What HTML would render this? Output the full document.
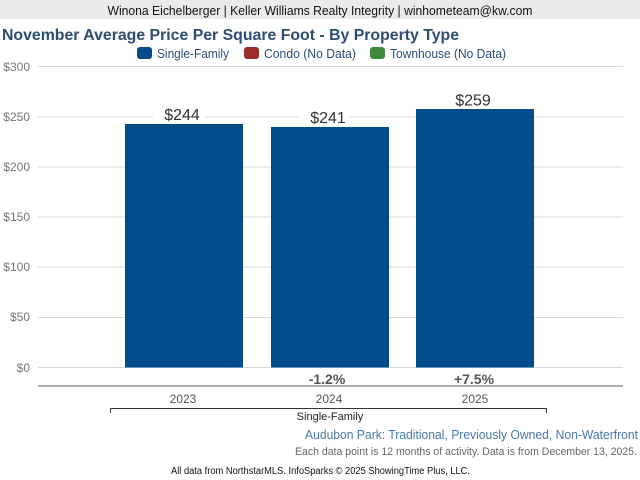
<!DOCTYPE html>
<html><head><meta charset="utf-8"><style>
html,body{margin:0;padding:0;background:#fff;}
svg{display:block;font-family:"Liberation Sans",Arial,sans-serif;}
</style></head><body>
<svg width="640" height="480" viewBox="0 0 640 480" xmlns="http://www.w3.org/2000/svg">
<rect x="0" y="0" width="640" height="480" fill="#ffffff"/>
<rect x="0" y="0" width="640" height="19" fill="#ebebeb"/>
<text x="320" y="15" font-size="13" fill="#111" text-anchor="middle" textLength="425" lengthAdjust="spacingAndGlyphs">Winona Eichelberger | Keller Williams Realty Integrity | winhometeam@kw.com</text>
<text x="2" y="40" font-size="16" font-weight="bold" fill="#2e4d72" textLength="457" lengthAdjust="spacingAndGlyphs">November Average Price Per Square Foot - By Property Type</text>
<!-- legend -->
<rect x="137" y="47" width="15" height="12" rx="3" fill="#034c8c"/>
<text x="157" y="58" font-size="12.5" fill="#2e4d72" textLength="72" lengthAdjust="spacingAndGlyphs">Single-Family</text>
<rect x="244" y="47" width="15" height="12" rx="3" fill="#9b2d2e"/>
<text x="264" y="58" font-size="12.5" fill="#2e4d72" textLength="92" lengthAdjust="spacingAndGlyphs">Condo (No Data)</text>
<rect x="370" y="47" width="15" height="12" rx="3" fill="#3f8a3b"/>
<text x="390" y="58" font-size="12.5" fill="#2e4d72" textLength="116" lengthAdjust="spacingAndGlyphs">Townhouse (No Data)</text>
<!-- grid -->
<g stroke="#d9d9d9" stroke-width="1">
<line x1="38" y1="66.5" x2="623" y2="66.5"/>
<line x1="38" y1="117" x2="623" y2="117"/>
<line x1="38" y1="167" x2="623" y2="167"/>
<line x1="38" y1="217" x2="623" y2="217"/>
<line x1="38" y1="267" x2="623" y2="267"/>
<line x1="38" y1="317.5" x2="623" y2="317.5"/>
<line x1="38" y1="367.5" x2="623" y2="367.5"/>
</g>
<g font-size="12" fill="#777" text-anchor="end">
<text x="30" y="71">$300</text>
<text x="30" y="121">$250</text>
<text x="30" y="171">$200</text>
<text x="30" y="221">$150</text>
<text x="30" y="271">$100</text>
<text x="30" y="321">$50</text>
<text x="30" y="372">$0</text>
</g>
<!-- bars -->
<rect x="125" y="124" width="118" height="243.5" fill="#034c8c"/>
<rect x="271" y="127" width="118" height="240.5" fill="#034c8c"/>
<rect x="416" y="109" width="118" height="258.5" fill="#034c8c"/>
<!-- value labels -->
<rect x="153" y="105" width="52" height="17" fill="#fff"/>
<rect x="298" y="108" width="52" height="17" fill="#fff"/>
<g font-size="16" fill="#333" text-anchor="middle">
<text x="182" y="120">$244</text>
<text x="328" y="123">$241</text>
<text x="473" y="105.5">$259</text>
</g>
<!-- percent -->
<g font-size="14" font-weight="bold" fill="#555" text-anchor="middle">
<text x="327" y="384">-1.2%</text>
<text x="474" y="384">+7.5%</text>
</g>
<line x1="38" y1="386" x2="623" y2="386" stroke="#666" stroke-width="1"/>
<g font-size="12" fill="#555" text-anchor="middle">
<text x="183" y="403">2023</text>
<text x="329" y="403">2024</text>
<text x="475" y="403">2025</text>
</g>
<path d="M110.5 413 V408.5 H546.5 V413" fill="none" stroke="#333" stroke-width="1"/>
<text x="330" y="420" font-size="11" fill="#222" text-anchor="middle">Single-Family</text>
<text x="638" y="439" font-size="12.5" fill="#4b78a8" text-anchor="end" textLength="333" lengthAdjust="spacingAndGlyphs">Audubon Park: Traditional, Previously Owned, Non-Waterfront</text>
<text x="637" y="455" font-size="11" fill="#666" text-anchor="end" textLength="342" lengthAdjust="spacingAndGlyphs">Each data point is 12 months of activity. Data is from December 13, 2025.</text>
<text x="171" y="474" font-size="10" fill="#111" textLength="299" lengthAdjust="spacingAndGlyphs">All data from NorthstarMLS. InfoSparks © 2025 ShowingTime Plus, LLC.</text>
</svg>
</body></html>
